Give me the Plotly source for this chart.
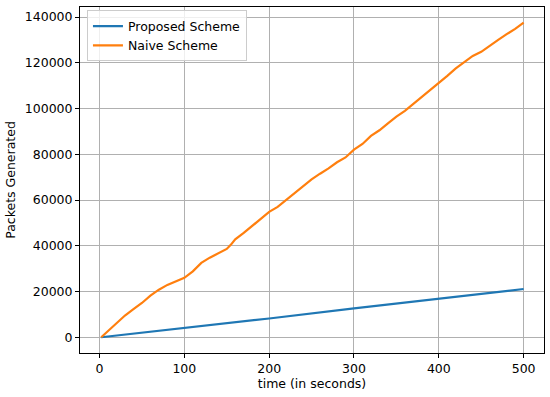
import plotly.graph_objects as go

time_proposed = [2, 100, 200, 300, 400, 500]
packets_proposed = [0, 3900, 8200, 12600, 16850, 21100]

time_naive = [2, 10, 20, 30, 40, 50, 60, 70, 80, 90, 100, 110, 120, 130, 140, 150, 155, 160,
              170, 180, 190, 200, 210, 220, 230, 240, 250, 260, 270, 280, 290, 300, 310, 320,
              330, 340, 350, 360, 370, 380, 390, 400, 410, 420, 430, 440, 450, 460, 470, 480,
              490, 500]
packets_naive = [0, 2800, 6000, 9500, 12300, 15000, 18200, 20800, 22900, 24500, 26000, 28800,
                 32500, 34800, 36800, 38600, 40500, 42800, 45600, 48800, 52000, 54800, 57000,
                 60000, 63000, 66200, 69000, 71500, 73800, 76500, 78600, 82000, 84500, 88000,
                 90500, 93500, 96500, 99000, 102000, 105000, 108000, 111000, 114300, 117500,
                 120300, 123000, 124800, 127500, 130000, 132500, 134800, 137500]

x_ticks = [0, 100, 200, 300, 400, 500]
y_ticks = [0, 20000, 40000, 60000, 80000, 100000, 120000, 140000]

FS = 12.5
fig = go.Figure()
fig.add_trace(go.Scatter(x=time_proposed, y=packets_proposed, mode="lines",
                         name="Proposed Scheme", line=dict(color="#1f77b4", width=2.2)))
fig.add_trace(go.Scatter(x=time_naive, y=packets_naive, mode="lines",
                         name="Naive Scheme", line=dict(color="#ff7f0e", width=2.2)))

axis_common = dict(showline=True, linecolor="black", linewidth=1, mirror=True,
                   ticks="outside", ticklen=4, tickcolor="black", tickwidth=1,
                   showgrid=True, gridcolor="#b0b0b0", gridwidth=1, zeroline=False,
                   automargin=False,
                   tickfont=dict(family="DejaVu Sans", size=FS, color="black"))

fig.update_layout(
    width=550, height=397,
    margin=dict(l=80, r=6, t=7, b=44),
    paper_bgcolor="white", plot_bgcolor="white",
    font=dict(family="DejaVu Sans", size=FS, color="black"),
    xaxis=dict(range=[-23, 524], tickvals=x_ticks,
               title=dict(text="time (in seconds)", standoff=4,
                          font=dict(family="DejaVu Sans", size=FS)),
               **axis_common),
    yaxis=dict(range=[-6875, 144375], tickvals=y_ticks, tickformat="d",
               title=dict(text="Packets Generated", standoff=6,
                          font=dict(family="DejaVu Sans", size=FS)),
               **axis_common),
    legend=dict(x=0.015, y=0.99, xanchor="left", yanchor="top",
                bgcolor="rgba(255,255,255,0.8)", bordercolor="#cccccc", borderwidth=1,
                font=dict(family="DejaVu Sans", size=FS), tracegroupgap=0),
    showlegend=True,
)

fig.write_html("out.html", config={"displayModeBar": False},
               post_script="document.body.style.margin='0';")
